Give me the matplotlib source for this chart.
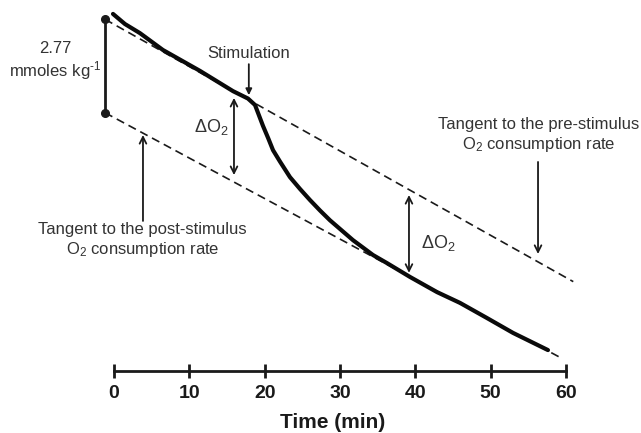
import numpy as np
import matplotlib
matplotlib.use("Agg")
import matplotlib.pyplot as plt

plt.rcParams['font.family'] = ['Liberation Sans', 'DejaVu Sans']
plt.rcParams['mathtext.fontset'] = 'custom'
plt.rcParams['mathtext.rm'] = 'Liberation Sans'
plt.rcParams['mathtext.it'] = 'Liberation Sans'

# O2 trace (time in min, O2 content in mmoles/kg, relative)
time_min = [-0.13, 1.46, 3.45, 6.5, 11.42, 15.8, 17.79, 18.72, 19.78, 20.48,
            21.11, 22.04, 23.36, 24.69, 26.02, 27.35, 28.67, 31.73, 34.38,
            36.24, 39.29, 42.88, 45.93, 49.52, 52.97, 57.61]
o2_content = [10.59, 10.29, 10.02, 9.52, 8.9, 8.3, 8.08, 7.89, 7.27, 6.90,
              6.55, 6.21, 5.75, 5.40, 5.07, 4.76, 4.47, 3.88, 3.44,
              3.2, 2.79, 2.34, 2.02, 1.57, 1.13, 0.62]

# tangents (start / end)
pre_tangent_t = [-1.19, 60.97]
pre_tangent_v = [10.43, 2.65]
post_tangent_t = [-1.19, 59.43]
post_tangent_v = [7.66, 0.377]

scale_bar = 2.77
stim_time = 17.9
xticks = [0, 10, 20, 30, 40, 50, 60]

fig = plt.figure(figsize=(6.41, 4.33), dpi=100)
ax = fig.add_axes([0, 0, 1, 1])
ax.set_xlim(-15.13, 69.96)
ax.set_ylim(-1.839, 11.003)

# dashed tangents
ax.plot(pre_tangent_t, pre_tangent_v, color='#1a1a1a', lw=1.2, ls=(0, (5, 3)))
ax.plot(post_tangent_t, post_tangent_v, color='#1a1a1a', lw=1.2, ls=(0, (5, 3)))

# trace
ax.plot(time_min, o2_content, color='#0a0a0a', lw=3.0, solid_capstyle='round',
        solid_joinstyle='round')

# scale bar
ax.plot([pre_tangent_t[0], pre_tangent_t[0]],
        [post_tangent_v[0], post_tangent_v[0] + scale_bar],
        color='#1a1a1a', lw=2.0, marker='o', ms=5.5)
ax.text(-7.83, 9.18, '2.77\nmmoles kg$^{\\text{-1}}$', ha='center', va='center',
        fontsize=12, color='#333333', linespacing=1.2)

# stimulation
ax.annotate('', xy=(stim_time, 8.18), xytext=(stim_time, 9.10),
            arrowprops=dict(arrowstyle='-|>', color='#1a1a1a', lw=1.3,
                            mutation_scale=9, shrinkA=0, shrinkB=0))
ax.text(stim_time, 9.43, 'Stimulation', ha='center', va='center',
        fontsize=12, color='#333333')

# delta O2 arrows
for t, v0, v1, tt, tv in [(15.93, 8.10, 5.81, 12.97, 7.25),
                          (39.16, 5.22, 2.91, 43.0, 3.80)]:
    ax.annotate('', xy=(t, v0), xytext=(t, v1),
                arrowprops=dict(arrowstyle='<->', color='#1a1a1a', lw=1.3,
                                mutation_scale=12, shrinkA=0, shrinkB=0))
    ax.text(tt, tv, r'$\Delta$O$_2$', ha='center', va='center',
            fontsize=13, color='#333333')

# tangent labels
ax.text(56.42, 6.98, 'Tangent to the pre-stimulus\nO$_2$ consumption rate',
        ha='center', va='center', fontsize=12, color='#333333')
ax.annotate('', xy=(56.29, 3.47), xytext=(56.29, 6.20),
            arrowprops=dict(arrowstyle='->', color='#1a1a1a', lw=1.3,
                            mutation_scale=12, shrinkA=0, shrinkB=0))
ax.text(3.77, 3.88, 'Tangent to the post-stimulus\nO$_2$ consumption rate',
        ha='center', va='center', fontsize=12, color='#333333')
ax.annotate('', xy=(3.85, 7.00), xytext=(3.85, 4.45),
            arrowprops=dict(arrowstyle='->', color='#1a1a1a', lw=1.3,
                            mutation_scale=12, shrinkA=0, shrinkB=0))

# time axis
for s in ['left', 'top', 'right']:
    ax.spines[s].set_visible(False)
ax.spines['bottom'].set_position(('data', 0))
ax.spines['bottom'].set_bounds(0, 60)
ax.spines['bottom'].set_linewidth(2.0)
ax.spines['bottom'].set_color('#1a1a1a')
ax.set_yticks([])
ax.set_xticks(xticks)
ax.set_xticklabels([str(x) for x in xticks], fontweight='bold')
ax.tick_params(axis='x', direction='inout', length=9.5, width=2.0,
               pad=5, labelsize=14, colors='#1a1a1a')
ax.text(29.0, -1.54, 'Time (min)', ha='center', va='center',
        fontsize=15, fontweight='bold', color='#1a1a1a')

fig.savefig('out.png', dpi=100)
